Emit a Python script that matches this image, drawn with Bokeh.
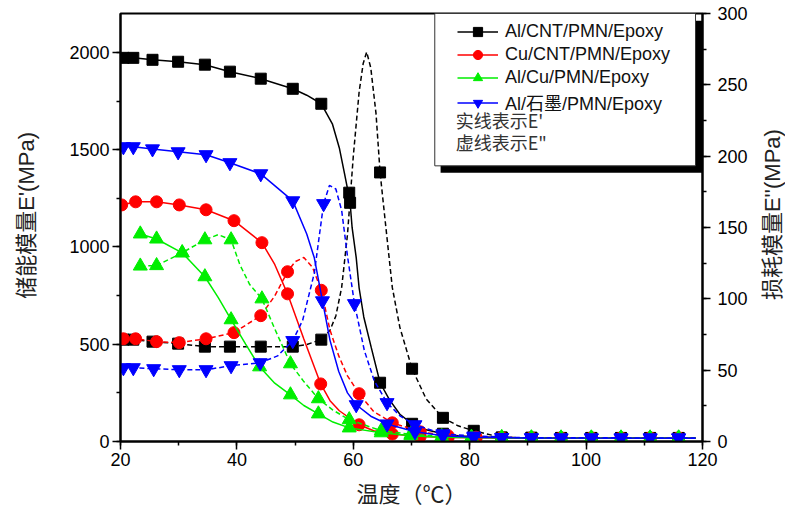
import math
from bokeh.plotting import figure
from bokeh.layouts import row
from bokeh.models import (Range1d, LinearAxis, SingleIntervalTicker, Legend,
                          LegendItem, BoxAnnotation, Label)
from bokeh.embed import file_html
from bokeh.resources import INLINE

# ---------------- data ----------------
# Al/CNT/PMN/Epoxy  E' (left axis)
bk_e1_mx = [20.5, 22.2, 25.5, 29.9, 34.5, 38.8, 44.1, 49.6, 54.5, 59.3, 59.45, 64.6, 70.1, 75.4, 80.7, 85.5, 90.6, 95.7, 100.9, 106.0, 111.0, 115.9]
bk_e1_my = [1972, 1972, 1962, 1952, 1937, 1901, 1865, 1813, 1736, 1279, 1227, 302, 91, 40, 24, 20, 19, 18, 18, 17, 17, 17]
bk_e1_cx = [20.5, 22.2, 25.5, 29.9, 34.5, 38.8, 44.1, 49.6, 52.0, 54.5, 56.4, 57.6, 58.5, 59.0, 59.3, 59.45, 59.8, 60.5, 61.0, 61.8, 63.1, 64.6, 66.2, 68.0, 70.1, 72.5, 75.4, 78.0, 80.7, 85.5, 95.0, 105.0, 118.8]
bk_e1_cy = [1972, 1972, 1962, 1952, 1937, 1901, 1865, 1813, 1780, 1736, 1633, 1509, 1376, 1300, 1279, 1227, 1099, 945, 789, 640, 481, 302, 215, 140, 91, 60, 40, 30, 24, 20, 18, 17, 17]
# Al/CNT/PMN/Epoxy  E'' (right axis)
bk_e2_mx = [20.5, 22.2, 25.5, 29.9, 34.5, 38.8, 44.1, 49.6, 54.5, 64.6, 70.1, 75.4, 80.7, 85.5, 90.6, 95.7, 100.9, 106.0, 111.0, 115.9]
bk_e2_my = [71.4, 71.4, 70.0, 68.6, 66.5, 66.5, 66.5, 66.5, 71.4, 188.6, 51.0, 16.6, 7.5, 2.8, 2.6, 2.5, 2.5, 2.5, 2.5, 2.5]
bk_e2_cx = [20.5, 22.2, 25.5, 29.9, 34.5, 38.8, 44.1, 49.6, 52.0, 54.5, 56.0, 57.0, 58.0, 59.0, 60.0, 61.0, 61.7, 62.3, 63.0, 63.9, 64.6, 65.6, 66.7, 68.0, 70.1, 72.5, 75.4, 78.0, 80.7, 85.5, 95.0, 118.8]
bk_e2_cy = [71.4, 71.4, 70.0, 68.6, 66.5, 66.5, 66.5, 66.5, 68.0, 71.4, 78.0, 88.0, 108.0, 145.0, 200.0, 245.0, 265.0, 273.0, 262.0, 230.0, 188.6, 150.0, 108.0, 80.0, 51.0, 30.0, 16.6, 11.0, 7.5, 2.8, 2.5, 2.5]

# Cu/CNT/PMN/Epoxy  E'
rd_e1_mx = [20.2, 22.6, 26.2, 30.1, 34.7, 39.5, 44.3, 48.7, 54.4, 61.0, 66.7, 71.5, 76.3, 81.1, 85.5, 90.6, 95.7, 100.9, 106.0, 111.0, 115.9]
rd_e1_my = [1216, 1232, 1232, 1216, 1191, 1135, 1022, 759, 296, 86, 38, 26, 21, 19, 19, 18, 18, 18, 18, 18, 18]
rd_e1_cx = [20.2, 22.6, 26.2, 30.1, 34.7, 39.5, 44.3, 46.5, 48.7, 51.5, 54.4, 56.0, 57.6, 61.0, 63.5, 66.7, 71.5, 76.3, 81.1, 90.0, 118.8]
rd_e1_cy = [1216, 1232, 1232, 1216, 1191, 1135, 1022, 910, 759, 527, 296, 210, 158, 86, 55, 38, 26, 21, 19, 18, 17]
# Cu/CNT/PMN/Epoxy  E''
rd_e2_mx = [20.5, 22.6, 26.2, 30.1, 34.7, 39.5, 44.1, 48.7, 54.5, 61.0, 66.7, 71.5, 76.3, 81.1, 85.5, 90.6, 95.7, 100.9, 106.0, 111.0, 115.9]
rd_e2_my = [72.0, 72.0, 70.0, 69.3, 72.0, 76.3, 88.2, 119.0, 106.0, 33.5, 13.1, 6.8, 4.0, 3.0, 2.8, 2.6, 2.5, 2.5, 2.5, 2.5, 2.5]
rd_e2_cx = [20.5, 22.6, 26.2, 30.1, 34.7, 39.5, 44.1, 46.5, 48.7, 50.0, 51.5, 53.0, 54.5, 56.0, 57.5, 59.0, 61.0, 63.5, 66.7, 71.5, 76.3, 81.1, 90.0, 118.8]
rd_e2_cy = [72.0, 72.0, 70.0, 69.3, 72.0, 76.3, 88.2, 102.0, 119.0, 126.0, 129.0, 122.0, 106.0, 78.0, 60.0, 46.0, 33.5, 21.0, 13.1, 6.8, 4.0, 3.0, 2.6, 2.5]

# Al/Cu/PMN/Epoxy  E'
gn_e1_mx = [23.4, 26.2, 30.6, 34.5, 39.0, 43.9, 49.2, 54.0, 59.3, 64.8, 69.9, 75.2, 80.3, 85.5, 90.6, 95.7, 100.9, 106.0, 111.0, 115.9]
gn_e1_my = [1067, 1041, 970, 847, 626, 384, 240, 142, 70, 45, 30, 22, 20, 19, 18, 18, 18, 18, 18, 18]
gn_e1_cx = [23.4, 26.2, 30.6, 34.5, 36.8, 39.0, 41.5, 43.9, 46.5, 49.2, 51.5, 54.0, 56.5, 59.3, 64.8, 69.9, 75.2, 80.3, 90.0, 118.8]
gn_e1_cy = [1067, 1041, 970, 847, 740, 626, 500, 384, 300, 240, 185, 142, 100, 70, 45, 30, 22, 20, 18, 17]
# Al/Cu/PMN/Epoxy  E''
gn_e2_mx = [23.4, 26.2, 30.6, 34.5, 39.0, 44.3, 49.2, 54.0, 59.3, 64.8, 69.9, 75.2, 80.3, 85.5, 90.6, 95.7, 100.9, 106.0, 111.0, 115.9]
gn_e2_my = [123.0, 123.3, 132.3, 141.4, 141.4, 100.0, 54.5, 30.0, 15.3, 7.5, 5.0, 3.5, 3.0, 2.8, 2.6, 2.5, 2.5, 2.5, 2.5, 2.5]
gn_e2_cx = [23.4, 26.2, 30.6, 34.5, 36.8, 39.0, 40.5, 42.2, 44.3, 46.5, 49.2, 51.5, 54.0, 56.5, 59.3, 64.8, 69.9, 75.2, 80.3, 90.0, 118.8]
gn_e2_cy = [123.0, 123.3, 132.3, 141.4, 145.0, 141.4, 124.0, 110.0, 100.0, 79.0, 54.5, 42.0, 30.0, 22.0, 15.3, 7.5, 5.0, 3.5, 3.0, 2.6, 2.5]

# Al/石墨/PMN/Epoxy  E'
bl_e1_mx = [20.5, 22.2, 25.5, 29.9, 34.7, 38.8, 44.1, 49.6, 54.7, 60.5, 65.8, 70.6, 75.4, 80.7, 85.5, 90.6, 95.7, 100.9, 106.0, 111.0, 115.9]
bl_e1_my = [1515, 1515, 1504, 1489, 1474, 1433, 1376, 1237, 723, 189, 90, 50, 30, 22, 19, 18, 18, 18, 18, 18, 18]
bl_e1_cx = [20.5, 22.2, 25.5, 29.9, 34.7, 38.8, 44.1, 49.6, 52.0, 53.3, 54.7, 56.0, 57.5, 59.0, 60.5, 63.0, 65.8, 70.6, 75.4, 80.7, 90.0, 118.8]
bl_e1_cy = [1515, 1515, 1504, 1489, 1474, 1433, 1376, 1237, 1067, 944, 723, 520, 360, 250, 189, 130, 90, 50, 30, 22, 18, 17]
# Al/石墨/PMN/Epoxy  E''
bl_e2_mx = [20.5, 22.2, 25.7, 30.1, 34.7, 39.0, 44.0, 49.6, 54.9, 60.2, 65.8, 70.6, 75.4, 80.7, 85.5, 90.6, 95.7, 100.9, 106.0, 111.0, 115.9]
bl_e2_my = [51.7, 51.7, 51.0, 50.3, 50.3, 53.1, 55.2, 70.7, 166.7, 96.6, 27.2, 11.7, 5.4, 3.8, 2.8, 2.6, 2.5, 2.5, 2.5, 2.5, 2.5]
bl_e2_cx = [20.5, 22.2, 25.7, 30.1, 34.7, 39.0, 44.0, 47.0, 49.6, 51.3, 53.3, 54.9, 55.9, 57.0, 58.0, 59.0, 60.2, 61.9, 63.6, 65.8, 68.0, 70.6, 75.4, 80.7, 90.0, 118.8]
bl_e2_cy = [51.7, 51.7, 51.0, 50.3, 50.3, 53.1, 55.2, 60.0, 70.7, 85.0, 118.0, 166.7, 179.5, 177.0, 162.0, 130.0, 96.6, 63.7, 42.6, 27.2, 18.0, 11.7, 5.4, 3.8, 2.6, 2.5]

series_names = ["Al/CNT/PMN/Epoxy", "Cu/CNT/PMN/Epoxy", "Al/Cu/PMN/Epoxy", "Al/石墨/PMN/Epoxy"]
x_ticks_interval = 20
left_tick_interval = 500
right_tick_interval = 50

LAT = "'Liberation Sans', 'Noto Sans CJK SC'"

p = figure(width=700, height=513, x_range=Range1d(20, 120), y_range=Range1d(0, 2200),
           output_backend="svg", toolbar_location=None,
           min_border_left=70, min_border_right=45, min_border_top=13, min_border_bottom=72)
p.extra_y_ranges = {"r": Range1d(0, 300)}
p.grid.visible = False
p.outline_line_color = "black"
p.outline_line_width = 2
p.outline_line_alpha = 1
p.background_fill_color = "white"
p.border_fill_color = "white"

p.xaxis.ticker = SingleIntervalTicker(interval=x_ticks_interval, num_minor_ticks=2)
p.yaxis.ticker = SingleIntervalTicker(interval=left_tick_interval, num_minor_ticks=2)
p.xaxis.axis_label = "温度（℃）"

raxis = LinearAxis(y_range_name="r", ticker=SingleIntervalTicker(interval=right_tick_interval, num_minor_ticks=2))
p.add_layout(raxis, "right")

for ax in [p.xaxis[0], p.yaxis[0], raxis]:
    ax.axis_line_width = 2
    ax.axis_line_color = "black"
    ax.major_tick_line_width = 1.5
    ax.minor_tick_line_width = 1.5
    ax.major_tick_out = 8
    ax.major_tick_in = 0
    ax.minor_tick_out = 4
    ax.minor_tick_in = 0
    ax.major_label_text_font = LAT
    ax.major_label_text_font_size = "18px"
    ax.major_label_text_color = "black"
    ax.axis_label_text_font = LAT
    ax.axis_label_text_font_size = "22px"
    ax.axis_label_text_font_style = "normal"
    ax.axis_label_text_color = "#222222"
p.yaxis[0].major_label_standoff = 3
p.xaxis[0].major_label_standoff = 3
p.xaxis[0].axis_label_standoff = 13
raxis.major_label_standoff = 7

colors = ["#000000", "#FF0000", "#00EE00", "#0000FF"]
markers = ["square", "circle", "triangle", "inverted_triangle"]
sizes = [11, 12, 14, 14]
data = [
    (bk_e1_cx, bk_e1_cy, bk_e1_mx, bk_e1_my, bk_e2_cx, bk_e2_cy, bk_e2_mx, bk_e2_my),
    (rd_e1_cx, rd_e1_cy, rd_e1_mx, rd_e1_my, rd_e2_cx, rd_e2_cy, rd_e2_mx, rd_e2_my),
    (gn_e1_cx, gn_e1_cy, gn_e1_mx, gn_e1_my, gn_e2_cx, gn_e2_cy, gn_e2_mx, gn_e2_my),
    (bl_e1_cx, bl_e1_cy, bl_e1_mx, bl_e1_my, bl_e2_cx, bl_e2_cy, bl_e2_mx, bl_e2_my),
]

items = []
for i, (c1x, c1y, m1x, m1y, c2x, c2y, m2x, m2y) in enumerate(data):
    col = colors[i]
    l1 = p.line(c1x, c1y, line_color=col, line_width=1.5)
    s1 = p.scatter(m1x, m1y, marker=markers[i], size=sizes[i], fill_color=col, line_color=col)
    p.line(c2x, c2y, line_color=col, line_width=1.5, line_dash="5 3", y_range_name="r")
    p.scatter(m2x, m2y, marker=markers[i], size=sizes[i], fill_color=col, line_color=col, y_range_name="r")
    items.append(LegendItem(label=series_names[i], renderers=[l1, s1]))

# legend frame with shadow
shadow = BoxAnnotation(left=75.0, right=120.0, top=2163, bottom=1381,
                       fill_color="black", fill_alpha=1, line_alpha=0)
box = BoxAnnotation(left=74.0, right=118.8, top=2200, bottom=1417,
                    fill_color="white", fill_alpha=1, line_color="#333333", line_alpha=1, line_width=1)
p.add_layout(shadow)
p.add_layout(box)

legend = Legend(items=items, location=(337, 326), padding=0, margin=0,
                border_line_alpha=0, background_fill_alpha=0,
                glyph_width=41, glyph_height=23, spacing=0, label_standoff=7,
                label_text_font=LAT, label_text_font_size="18px", label_text_color="#111111")
p.add_layout(legend, "center")

for txt, yv in [("实线表示E'", 1653), ('虚线表示E"', 1540)]:
    p.add_layout(Label(x=77.6, y=yv, text=txt, text_baseline="middle", text_align="left",
                       text_font="'Noto Sans CJK SC'", text_font_size="18px", text_color="#333333"))


def title_strip(width, text, x, y):
    s = figure(width=width, height=513, x_range=Range1d(0, width), y_range=Range1d(0, 513),
               output_backend="svg", toolbar_location=None, x_axis_type=None, y_axis_type=None,
               min_border_left=0, min_border_right=0, min_border_top=0, min_border_bottom=0)
    s.outline_line_color = None
    s.grid.visible = False
    s.background_fill_color = "white"
    s.border_fill_color = "white"
    s.add_layout(Label(x=x, y=y, text=text, angle=math.pi / 2,
                       text_align="center", text_baseline="middle",
                       text_font=LAT, text_font_size="22px", text_color="#222222"))
    return s


left_strip = title_strip(50, "储能模量E'(MPa)", 26, 271)
right_strip = title_strip(35, "损耗模量E''(MPa)", 22, 272)

layout = row(left_strip, p, right_strip, spacing=0)
open("out.html", "w").write(file_html(layout, INLINE))
